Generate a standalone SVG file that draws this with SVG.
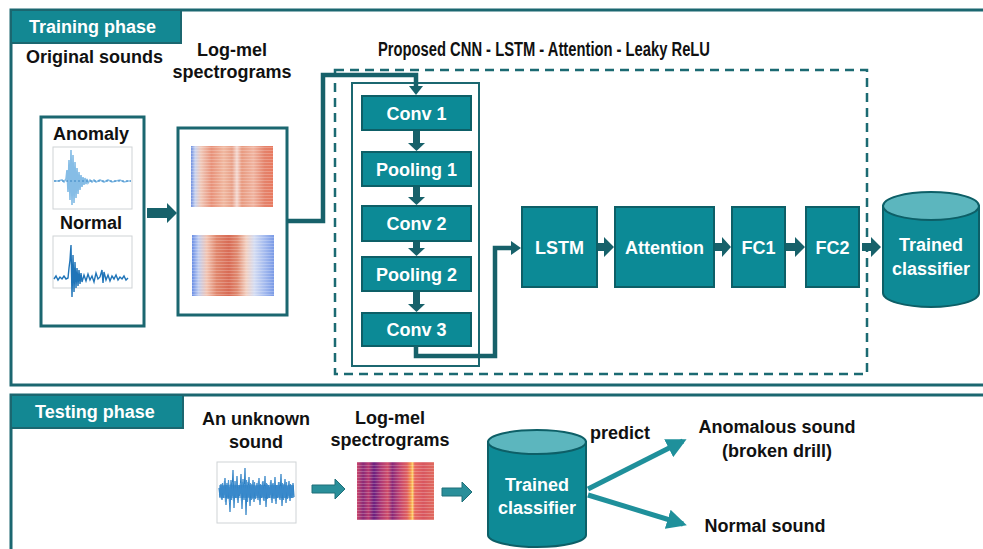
<svg xmlns="http://www.w3.org/2000/svg" width="983" height="549" viewBox="0 0 983 549">
<style>
  .frame{fill:none;stroke:#1b6770;stroke-width:3}
  .tab{fill:#138893;stroke:#1b6770;stroke-width:2}
  .tabt{font-family:"Liberation Sans",Arial,sans-serif;font-weight:bold;font-size:18px;fill:#ffffff}
  .lbl{font-family:"Liberation Sans",Arial,sans-serif;font-weight:bold;font-size:18px;fill:#111111}
  .ttl{font-family:"Liberation Sans",Arial,sans-serif;font-weight:bold;font-size:20px;fill:#111111}
  .box{fill:#0c8a96;stroke:#0d5f67;stroke-width:2}
  .bt{font-family:"Liberation Sans",Arial,sans-serif;font-weight:bold;font-size:18px;fill:#ffffff;text-anchor:middle}
  .imgbox{fill:#ffffff;stroke:#1b6770;stroke-width:3}
  .plot{fill:#ffffff;stroke:#cfd3d6;stroke-width:1}
  .dash{fill:none;stroke:#1b6a72;stroke-width:2.5;stroke-dasharray:9 6}
  .inner{fill:none;stroke:#1b6770;stroke-width:2}
  .conn{fill:none;stroke:#17616a;stroke-width:4.5}
  .arr{fill:#17616a}
  .tarr{fill:#2a8f9a;stroke:#1e6f78;stroke-width:1}
  .cylb{fill:#0e8a96;stroke:#0d5f67;stroke-width:2}
  .cylt{fill:#5cb6be;stroke:#0d5f67;stroke-width:2}
  .pred{fill:none;stroke:#1f909b;stroke-width:5}
</style>
<defs>
  <linearGradient id="sp1" x1="0" y1="0" x2="1" y2="0">
    <stop offset="0" stop-color="#6f8fe0"/>
    <stop offset="0.05" stop-color="#c8d2ee"/>
    <stop offset="0.12" stop-color="#f0c8b8"/>
    <stop offset="0.25" stop-color="#e8927a"/>
    <stop offset="0.4" stop-color="#f0b8a0"/>
    <stop offset="0.5" stop-color="#e8a088"/>
    <stop offset="0.56" stop-color="#f4d8d0"/>
    <stop offset="0.62" stop-color="#e89a80"/>
    <stop offset="0.76" stop-color="#f0b4a0"/>
    <stop offset="0.9" stop-color="#e4826a"/>
    <stop offset="1" stop-color="#e87a60"/>
  </linearGradient>
  <linearGradient id="sp2" x1="0" y1="0" x2="1" y2="0">
    <stop offset="0" stop-color="#6b8fe6"/>
    <stop offset="0.08" stop-color="#c0cdef"/>
    <stop offset="0.18" stop-color="#f2c4b2"/>
    <stop offset="0.3" stop-color="#e0866c"/>
    <stop offset="0.45" stop-color="#d86b55"/>
    <stop offset="0.55" stop-color="#e08a70"/>
    <stop offset="0.66" stop-color="#f2cfc0"/>
    <stop offset="0.76" stop-color="#d4dcf2"/>
    <stop offset="0.88" stop-color="#a6bcef"/>
    <stop offset="1" stop-color="#7a9ae6"/>
  </linearGradient>
  <linearGradient id="sp3" x1="0" y1="0" x2="1" y2="0">
    <stop offset="0" stop-color="#c8456a"/>
    <stop offset="0.08" stop-color="#8a2a78"/>
    <stop offset="0.15" stop-color="#b83a70"/>
    <stop offset="0.22" stop-color="#6a2080"/>
    <stop offset="0.3" stop-color="#a83576"/>
    <stop offset="0.4" stop-color="#d04f6a"/>
    <stop offset="0.46" stop-color="#8a2a7a"/>
    <stop offset="0.55" stop-color="#c04470"/>
    <stop offset="0.65" stop-color="#e0605f"/>
    <stop offset="0.7" stop-color="#f59a50"/>
    <stop offset="0.72" stop-color="#fcd06a"/>
    <stop offset="0.75" stop-color="#e86860"/>
    <stop offset="0.86" stop-color="#d8565f"/>
    <stop offset="1" stop-color="#e06a5e"/>
  </linearGradient>
  <pattern id="hl" width="4" height="3" patternUnits="userSpaceOnUse">
    <rect x="0" y="0" width="4" height="1" fill="#ffffff" opacity="0.22"/>
  </pattern>
  <marker id="ah" viewBox="0 0 10 10" refX="8" refY="5" markerWidth="4" markerHeight="4" orient="auto">
    <path d="M0,0 L10,5 L0,10 z" fill="#1f909b"/>
  </marker>
</defs>

<rect width="983" height="549" fill="#ffffff"/>

<g id="training-frame">
  <rect class="frame" x="11" y="10" width="990" height="375"/>
  <rect class="tab" x="11" y="10" width="170" height="33"/>
  <text class="tabt" x="29" y="33">Training phase</text>
  <text class="lbl" x="26" y="63">Original sounds</text>
  <text class="lbl" x="232" y="56" text-anchor="middle">Log-mel</text>
  <text class="lbl" x="232" y="78" text-anchor="middle">spectrograms</text>
  <text class="ttl" x="378" y="56" textLength="332" lengthAdjust="spacingAndGlyphs">Proposed CNN - LSTM - Attention - Leaky ReLU</text>
</g>

<g id="original-sounds">
  <rect class="imgbox" x="41" y="117" width="103" height="209"/>
  <text class="lbl" x="91" y="140" text-anchor="middle">Anomaly</text>
  <rect class="plot" x="53" y="147" width="79" height="62"/>
  <polyline fill="none" stroke="#86bde6" stroke-width="1.6" points="54,181 58,181 62,180 64,182 66,179 67,170 68,192 69,160 70,200 71,150 72,205 73,155 74,203 75,162 76,198 77,168 78,194 79,172 80,190 81,175 82,187 83,177 84,185 85,178 86,184 87,179 88,183 90,180 92,182 94,180 96,182 100,180 104,182 108,180 112,182 116,181 120,180 124,182 128,181 131,181"/>
  <line x1="54" y1="181" x2="131" y2="181" stroke="#3a86c4" stroke-width="1" stroke-dasharray="2 2"/>
  <text class="lbl" x="91" y="229" text-anchor="middle">Normal</text>
  <rect class="plot" x="53" y="236" width="79" height="52"/>
  <polyline fill="none" stroke="#1f74b8" stroke-width="1.4" points="54,279 56,276 58,280 60,277 62,279 64,276 66,279 68,278 69,268 70,260 71,245 72,297 73,255 74,292 75,262 76,288 77,268 78,286 79,270 80,284 81,273 82,282 84,275 86,281 88,274 90,280 92,276 94,282 96,273 98,279 100,277 102,270 103,283 104,272 106,280 108,275 110,281 112,276 114,279 116,275 118,280 120,277 122,279 124,276 126,280 128,278"/>
</g>

<g id="spectrograms">
  <rect class="imgbox" x="178" y="128" width="109" height="187"/>
  <rect x="191" y="146" width="82" height="61" fill="url(#sp1)"/>
  <rect x="191" y="146" width="82" height="61" fill="url(#hl)"/>
  <rect x="192" y="235" width="82" height="61" fill="url(#sp2)"/>
  <rect x="192" y="235" width="82" height="61" fill="url(#hl)"/>
</g>

<g id="proposed-model">
  <rect class="dash" x="335" y="70" width="532" height="304"/>
  <rect class="inner" x="352" y="83" width="127" height="283"/>
</g>

<g id="conv1"><rect class="box" x="362" y="96" width="109" height="34"/><text class="bt" x="416.5" y="120">Conv 1</text></g>
<g id="pooling1"><rect class="box" x="362" y="152" width="109" height="34"/><text class="bt" x="416.5" y="176">Pooling 1</text></g>
<g id="conv2"><rect class="box" x="362" y="206" width="109" height="35"/><text class="bt" x="416.5" y="230">Conv 2</text></g>
<g id="pooling2"><rect class="box" x="362" y="257" width="109" height="34"/><text class="bt" x="416.5" y="281">Pooling 2</text></g>
<g id="conv3"><rect class="box" x="362" y="313" width="109" height="33"/><text class="bt" x="416.5" y="336">Conv 3</text></g>

<g id="lstm"><rect class="box" x="522" y="207" width="75" height="80"/><text class="bt" x="559.5" y="254">LSTM</text></g>
<g id="attention"><rect class="box" x="615" y="207" width="99" height="80"/><text class="bt" x="664.5" y="254">Attention</text></g>
<g id="fc1"><rect class="box" x="732" y="207" width="53" height="80"/><text class="bt" x="758.5" y="254">FC1</text></g>
<g id="fc2"><rect class="box" x="806" y="207" width="53" height="80"/><text class="bt" x="832.5" y="254">FC2</text></g>

<g id="trained-classifier-train">
  <path class="cylb" d="M883,206 L883,293 A48,14 0 0 0 979,293 L979,206 Z"/>
  <ellipse class="cylt" cx="931" cy="206" rx="48" ry="14"/>
  <text class="bt" x="931" y="251">Trained</text>
  <text class="bt" x="931" y="275">classifier</text>
</g>

<g id="testing-frame">
  <rect class="frame" x="11" y="395" width="990" height="200"/>
  <rect class="tab" x="11" y="395" width="172" height="33"/>
  <text class="tabt" x="35" y="418">Testing phase</text>
  <text class="lbl" x="256" y="425" text-anchor="middle">An unknown</text>
  <text class="lbl" x="256" y="448" text-anchor="middle">sound</text>
  <text class="lbl" x="390" y="424" text-anchor="middle">Log-mel</text>
  <text class="lbl" x="390" y="446" text-anchor="middle">spectrograms</text>
</g>

<g id="unknown-sound">
  <rect class="plot" x="217" y="462" width="79" height="61"/>
  <polyline fill="none" stroke="#2b7fc4" stroke-width="1.2" points="219,488 220,497 221,484 222,500 223,486 224,495 225,478 226,505 227,483 228,499 229,487 230,512 231,480 232,496 233,470 234,508 235,481 236,498 237,476 238,503 239,485 240,494 241,474 242,509 243,479 244,500 245,468 246,515 247,482 248,497 249,477 250,506 251,484 252,499 253,480 254,502 255,486 256,496 257,483 258,500 259,478 260,505 261,485 262,497 263,481 264,501 265,476 266,507 267,484 268,498 269,487 270,495 271,480 272,503 273,483 274,499 275,477 276,504 277,485 278,497 279,482 280,500 281,474 282,506 283,484 284,498 285,479 286,503 287,486 288,496 289,481 290,501 291,485 292,498 293,483 294,497"/>
  <polyline fill="none" stroke="#4a95d2" stroke-width="1.2" points="219.5,495 220.5,486 221.5,499 222.5,483 223.5,498 224.5,481 225.5,502 226.5,485 227.5,497 228.5,480 229.5,503 230.5,484 231.5,500 232.5,482 233.5,501 234.5,486 235.5,498 236.5,481 237.5,500 238.5,487 239.5,496 240.5,483 241.5,501 242.5,482 243.5,497 244.5,484 245.5,499 246.5,480 247.5,502 248.5,485 249.5,498 250.5,483 251.5,500 252.5,484 253.5,497 254.5,482 255.5,499 256.5,486 257.5,495 258.5,481 259.5,501 260.5,484 261.5,498 262.5,482 263.5,500 264.5,486 265.5,497 266.5,483 267.5,499 268.5,485 269.5,498 270.5,482 271.5,500 272.5,484 273.5,496 274.5,483 275.5,501 276.5,485 277.5,498 278.5,482 279.5,499 280.5,486 281.5,497 282.5,483 283.5,500 284.5,485 285.5,496 286.5,482 287.5,499 288.5,486 289.5,497 290.5,484 291.5,498 292.5,486 293.5,495"/>
  <rect x="219" y="485" width="75" height="13" fill="#2b7fc4" opacity="0.55"/>
</g>

<g id="test-spectrogram">
  <rect x="357" y="462" width="77" height="58" fill="url(#sp3)"/>
  <rect x="357" y="462" width="77" height="58" fill="url(#hl)"/>
</g>

<g id="trained-classifier-test">
  <path class="cylb" d="M488,442 L488,535 A49,12 0 0 0 586,535 L586,442 Z"/>
  <ellipse class="cylt" cx="537" cy="442" rx="49" ry="12"/>
  <text class="bt" x="537" y="491">Trained</text>
  <text class="bt" x="537" y="514">classifier</text>
</g>

<g id="outputs">
  <text class="lbl" x="620" y="439" text-anchor="middle">predict</text>
  <text class="lbl" x="777" y="433" text-anchor="middle">Anomalous sound</text>
  <text class="lbl" x="777" y="457" text-anchor="middle">(broken drill)</text>
  <text class="lbl" x="765" y="532" text-anchor="middle">Normal sound</text>
</g>

<g id="connectors">
  <polygon class="arr" points="147,208 167,208 167,203 177,213 167,223 167,218 147,218"/>
  <polyline class="conn" points="287,221 323,221 323,75 416,75 416,88"/>
  <polygon class="arr" points="409,86 423,86 416,95"/>
  <polygon class="arr" points="413,131 420,131 420,143 425,143 416.5,151 408,143 413,143"/>
  <polygon class="arr" points="413,187 420,187 420,197 425,197 416.5,205 408,197 413,197"/>
  <polygon class="arr" points="413,242 420,242 420,248 425,248 416.5,256 408,248 413,248"/>
  <polygon class="arr" points="413,292 420,292 420,304 425,304 416.5,312 408,304 413,304"/>
  <polyline class="conn" points="416,346 416,356 495,356 495,248 512,248"/>
  <polygon class="arr" points="511,241 521,248 511,255"/>
  <polygon class="arr" points="598,243 604,243 604,237 614,247 604,257 604,251 598,251"/>
  <polygon class="arr" points="715,243 722,243 722,237 731,247 722,257 722,251 715,251"/>
  <polygon class="arr" points="786,243 795,243 795,237 805,247 795,257 795,251 786,251"/>
  <polygon class="arr" points="862,243 871,243 871,237 881,247 871,257 871,251 862,251"/>
  <polygon class="tarr" points="312,485 335,485 335,479 345,489 335,499 335,493 312,493"/>
  <polygon class="tarr" points="442,488 462,488 462,482 472,492 462,502 462,496 442,496"/>
  <line class="pred" x1="588" y1="489" x2="683" y2="441" marker-end="url(#ah)"/>
  <line class="pred" x1="588" y1="495" x2="683" y2="524" marker-end="url(#ah)"/>
</g>
</svg>
